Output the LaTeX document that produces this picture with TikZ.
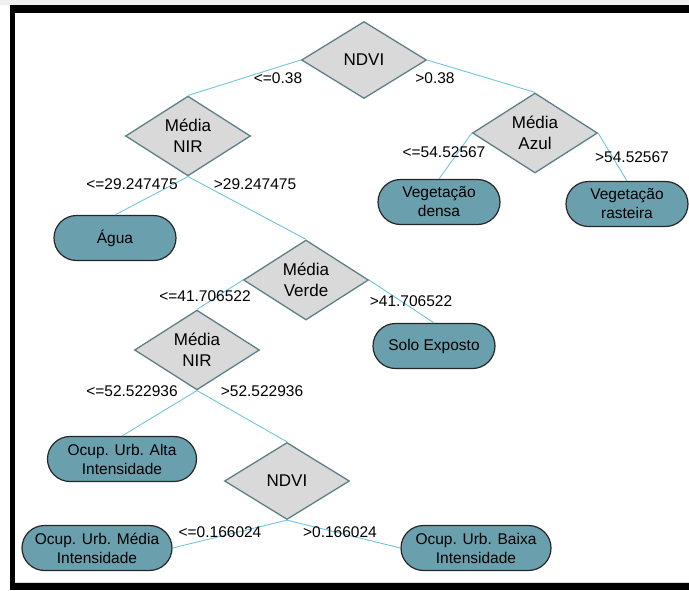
\documentclass[tikz,border=0pt]{standalone}
\usepackage{fontspec}
\setmainfont{Liberation Sans}
\usepackage{xcolor}
\usepackage{tikz}
\usetikzlibrary{shapes.geometric,shapes.misc}
\definecolor{testgray}{RGB}{217,217,217}
\definecolor{testedge}{RGB}{94,126,136}
\definecolor{leafteal}{RGB}{106,159,174}
\definecolor{linkblue}{RGB}{112,196,224}

\begin{document}
\begin{tikzpicture}[x=1pt,y=-1pt,
  teste/.style={diamond,draw=testedge,fill=testgray,line width=1.3pt,
    minimum width=125pt,minimum height=77pt,inner sep=0pt,align=center,
    font=\fontsize{17}{21}\selectfont},
  folha/.style={rounded rectangle,draw=black!85,fill=leafteal,line width=1.2pt,
    minimum width=122pt,minimum height=45pt,inner sep=0pt,align=center,
    font=\fontsize{15.5}{19}\selectfont},
  ramo/.style={linkblue,line width=0.9pt},
  rotulo/.style={inner sep=0pt,font=\fontsize{15.5}{19}\selectfont}]
  \useasboundingbox (0,0) rectangle (689,590);
  % moldura
  \fill[gray!12] (0,0) rectangle (689,5);
  \fill[black] (10,5) rectangle (689,13);
  \fill[black] (10,5) rectangle (15,590);
  \fill[black] (10,583) rectangle (689,590);
  \draw[gray!30] (15,582.5) -- (689,582.5);
  % testes
  \node[teste] (ndvi1) at (364,60) {NDVI};
  \node[teste] (nir1) at (188,136) {Média\\NIR};
  \node[teste] (azul) at (535,133) {Média\\Azul};
  \node[teste] (verde) at (306,280) {Média\\Verde};
  \node[teste] (nir2) at (197,350) {Média\\NIR};
  \node[teste] (ndvi2) at (287,481) {NDVI};
  % classes
  \node[folha] (agua) at (115,238) {Água};
  \node[folha] (densa) at (439,202) {Vegetação\\densa};
  \node[folha] (rasteira) at (627,204) {Vegetação\\rasteira};
  \node[folha] (solo) at (434,346) {Solo Exposto};
  \node[folha,minimum width=149pt] (alta) at (122,459) {Ocup. Urb. Alta\\Intensidade};
  \node[folha,minimum width=150pt] (media) at (97,548) {Ocup. Urb. Média\\Intensidade};
  \node[folha,minimum width=150pt] (baixa) at (476,548) {Ocup. Urb. Baixa\\Intensidade};
  % ramos
  \draw[ramo] (ndvi1.west) -- (nir1.north);
  \draw[ramo] (ndvi1.east) -- (azul.north);
  \draw[ramo] (nir1.south) -- (agua.north);
  \draw[ramo] (nir1.south) -- (verde.north);
  \draw[ramo] (azul.west) -- (densa.north);
  \draw[ramo] (azul.east) -- (rasteira.north);
  \draw[ramo] (verde.west) -- (nir2.north);
  \draw[ramo] (verde.east) -- (solo.north);
  \draw[ramo] (nir2.south) -- (alta.north);
  \draw[ramo] (nir2.south) -- (ndvi2.north);
  \draw[ramo] (ndvi2.south) -- (media.east);
  \draw[ramo] (ndvi2.south) -- (baixa.west);
  % limiares
  \node[rotulo] (r1) at (278,78) {<=0.38};
  \node[rotulo] (r2) at (435,78) {>0.38};
  \node[rotulo] (r3) at (132,184) {<=29.247475};
  \node[rotulo] (r4) at (255,184) {>29.247475};
  \node[rotulo] (r5) at (444,152) {<=54.52567};
  \node[rotulo] (r6) at (632,157) {>54.52567};
  \node[rotulo] (r7) at (205,296) {<=41.706522};
  \node[rotulo] (r8) at (411,301) {>41.706522};
  \node[rotulo] (r9) at (132,391) {<=52.522936};
  \node[rotulo] (r10) at (262,391) {>52.522936};
  \node[rotulo] (r11) at (220,532) {<=0.166024};
  \node[rotulo] (r12) at (340,532) {>0.166024};
\end{tikzpicture}
\end{document}
